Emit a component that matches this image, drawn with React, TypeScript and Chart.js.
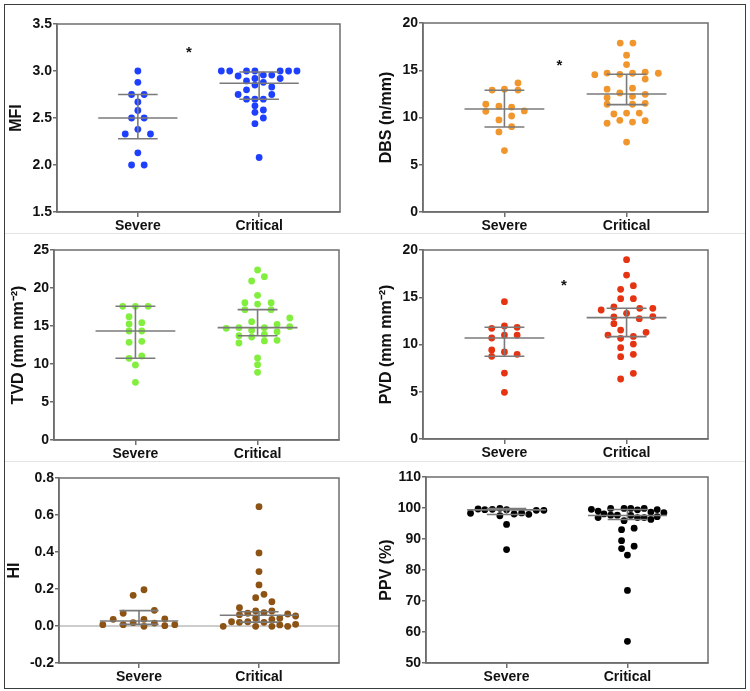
import React, { useEffect, useRef } from "react";
import { Chart, registerables } from "chart.js";
Chart.register(...registerables);

// ---------- data ----------
const categories = ["Severe", "Critical"];
const categoryX = [1, 2.5];

// MFI
const mfiSevere = [3.0, 2.88, 2.75, 2.75, 2.67, 2.58, 2.5, 2.5, 2.38, 2.33, 2.33, 2.13, 2.0, 2.0];
const mfiSevereSlot = [0, 0, -1.5, 1.5, 0, 0, -1.5, 1.5, 0, -3, 3, 0, -1.5, 1.5];
const mfiCritical = [3.0, 3.0, 3.0, 3.0, 3.0, 3.0, 3.0, 2.947, 2.957, 2.957, 2.92, 2.92, 2.894, 2.88, 2.85, 2.83, 2.8, 2.75, 2.75, 2.7, 2.7, 2.7, 2.63, 2.585, 2.56, 2.5, 2.44, 2.08];
const mfiCriticalSlot = [-9, -7, -3, -1, 5, 7, 9, -5, 1, 3, -1, 5, -3, 1, -1, 3, -3, -5, 3, -3, -1, 1, -1, 1, -1, 1, -1, 0];
const mfiSevereStats = [2.28, 2.5, 2.75]; // Q1, median, Q3
const mfiCriticalStats = [2.7, 2.87, 2.99];
const mfiStar = [1.63, 3.23];
const mfiAxis = [1.5, 3.5, 0.5];

// DBS
const dbsSevere = [13.65, 12.9, 13.0, 12.9, 11.4, 10.65, 11.2, 11.1, 10.7, 9.74, 10.16, 9.03, 8.47, 6.5];
const dbsSevereSlot = [3.2, -2.9, 0, 3.2, -4.4, -4.4, -1.3, 1.7, 4.7, -1.3, 1.7, 1.7, -1.3, 0];
const dbsCritical = [17.88, 17.88, 16.6, 15.6, 14.53, 14.7, 14.57, 14.68, 14.8, 14.68, 14.07, 13.0, 13.1, 12.1, 12.6, 12.24, 12.45, 11.4, 11.4, 11.5, 10.37, 10.47, 10.47, 9.39, 9.7, 9.52, 9.66, 7.4];
const dbsCriticalSlot = [-1.5, 1.5, 0, 0, -7.5, -4.6, -1.6, 1.4, 4.4, 7.5, 4.4, -4.6, 1.4, -4.6, -1.6, 1.4, 4.4, -4.6, 1.4, 4.4, -3, 0, 3, -4.6, -1.6, 1.4, 4.4, 0];
const dbsSevereStats = [9.0, 10.9, 12.88];
const dbsCriticalStats = [11.36, 12.49, 14.57];
const dbsStar = [1.674, 15.84];
const dbsAxis = [0, 20, 5];

// TVD
const tvdSevere = [17.59, 17.59, 17.59, 16.23, 15.26, 15.44, 14.34, 14.34, 12.85, 12.98, 10.75, 11.05, 9.87, 7.59];
const tvdSevereSlot = [-3, 0, 3, -1.5, -1.5, 1.5, -1.5, 1.5, -1.5, 1.5, -1.5, 1.5, 0, 0];
const tvdCritical = [22.37, 21.49, 20.92, 19.03, 18.07, 17.89, 18.07, 17.15, 17.15, 16.05, 15.57, 15.22, 14.91, 14.78, 14.78, 14.69, 14.43, 14.25, 13.9, 13.72, 13.55, 13.11, 13.03, 12.76, 10.79, 9.91, 8.9];
const tvdCriticalSlot = [0, 1.6, -1.4, 0, -3, 0, 3.2, -3, 3.2, 7.6, -1.4, 4.6, 7.6, -4.4, 1.6, -7.4, -1.4, 4.6, 1.6, -4.4, -1.4, 4.6, 1.6, -4.4, 0, 0, 0];
const tvdSevereStats = [10.75, 14.34, 17.59];
const tvdCriticalStats = [13.72, 14.78, 17.15];
const tvdAxis = [0, 25, 5];

// PVD
const pvdSevere = [14.53, 11.71, 11.96, 11.82, 10.69, 11.0, 11.0, 9.42, 9.21, 8.75, 8.96, 6.98, 4.94];
const pvdSevereSlot = [0, -3, 0, 3, -3, 0, 3, -3, 0, -3, 3, 0, 0];
const pvdCritical = [18.98, 17.35, 15.84, 16.22, 14.85, 14.85, 13.65, 13.97, 13.83, 13.83, 12.91, 13.3, 12.73, 12.95, 12.2, 11.53, 11.0, 11.29, 10.65, 10.85, 9.66, 10.05, 8.71, 8.96, 6.35, 6.95];
const pvdCriticalSlot = [0, 0, -1.4, 1.6, -1.4, 1.6, -6, -3, 3.1, 6.2, -3, 0, 3, 6.2, -3, -1.4, -4.4, 4.6, -1.4, 1.6, -1.4, 1.6, -1.4, 1.6, -1.4, 1.6];
const pvdSevereStats = [8.75, 10.69, 11.82];
const pvdCriticalStats = [10.83, 12.84, 13.83];
const pvdStar = [1.73, 16.58];
const pvdAxis = [0, 20, 5];

// HI
const hiSevere = [0.196, 0.166, 0.085, 0.069, 0.036, 0.036, 0.038, 0.007, 0.007, 0.018, 0.016, -0.002, 0.002, 0.007];
const hiSevereSlot = [1.2, -1.4, 3.7, -3.8, -6.2, 1.2, 6.2, -8.7, -3.8, -1.4, 3.7, 1.2, 6.2, 8.6];
const hiCritical = [0.645, 0.395, 0.294, 0.222, 0.171, 0.153, 0.131, 0.099, 0.081, 0.081, 0.072, 0.069, 0.065, 0.061, 0.054, 0.042, 0.042, 0.036, 0.023, 0.023, 0.02, 0.02, 0.009, 0.006, -0.002, -0.002, -0.002, -0.002];
const hiCriticalSlot = [0, 0, 0, 0, 1.2, -0.8, 3.1, -4.7, -0.8, 3.1, 1.2, -2.7, 6.9, -4.7, 8.8, -0.8, 5, 3.1, -6.6, -2.7, -4.7, 1.2, 8.8, 5, -8.6, -0.8, 3.1, 6.9];
const hiSevereStats = [0.009, 0.027, 0.083];
const hiCriticalStats = [0.021, 0.058, 0.077];
const hiAxis = [-0.2, 0.8, 0.2];

// PPV
const ppvSevere = [98.3, 99.68, 99.46, 99.57, 99.9, 97.5, 99.46, 94.7, 86.6, 98.06, 98.4, 97.96, 99.26, 99.26];
const ppvSevereSlot = [-8.6, -6.8, -5.2, -3.4, -1.6, -1.6, 0, 0, 0, 1.8, 3.6, 5.3, 7.1, 8.9];
const ppvCritical = [99.57, 99.0, 96.9, 98.1, 99.85, 97.7, 97.7, 99.85, 95.9, 99.85, 97.6, 99.4, 96.9, 99.85, 96.9, 98.7, 96.3, 99.5, 97.2, 98.5, 93.0, 93.5, 89.45, 86.9, 87.7, 84.8, 73.4, 57.0];
const ppvCriticalSlot = [-8.6, -7, -7, -5.6, -4, -4, -2.4, -0.8, -0.8, 0.8, 0.8, 2.4, 2.4, 4, 4, 5.6, 5.6, 7.1, 7.1, 8.7, -1.4, 1.6, -1.4, -1.4, 1.6, 0, 0, 0];
const ppvSevereStats = [97.9, 99.4, 99.8];
const ppvCriticalStats = [96.3, 97.6, 99.5];
const ppvAxis = [50, 110, 10];

// ---------- styling / layout ----------
const FONT = "'Liberation Sans', Arial, Helvetica, sans-serif";
const SLOT = 0.052; // x data units per dot slot
const MED_HALF = 0.49;
const CAP_HALF = 0.245;
const AXIS_GREY = "#6e6e6e";
const BAR_GREY = "#7a7a7a";

type PanelCfg = {
  box: number[]; // left, top, width, height of canvas
  plot: number[]; // plot area left, top, right, bottom (page px)
  title: string;
  color: string;
  axis: number[];
  decimals: number;
  groups: { values: number[]; slots: number[]; stats: number[] }[];
  star?: number[];
  zeroLine?: boolean;
};

const panels: PanelCfg[] = [
  {
    box: [9, 6, 363, 230], plot: [57, 24, 340, 212], title: "MFI", color: "#1f3fff",
    axis: mfiAxis, decimals: 1, star: mfiStar,
    groups: [
      { values: mfiSevere, slots: mfiSevereSlot, stats: mfiSevereStats },
      { values: mfiCritical, slots: mfiCriticalSlot, stats: mfiCriticalStats },
    ],
  },
  {
    box: [379, 6, 365, 230], plot: [423, 23, 708, 212], title: "DBS (n/mm)", color: "#f0962c",
    axis: dbsAxis, decimals: 0, star: dbsStar,
    groups: [
      { values: dbsSevere, slots: dbsSevereSlot, stats: dbsSevereStats },
      { values: dbsCritical, slots: dbsCriticalSlot, stats: dbsCriticalStats },
    ],
  },
  {
    box: [11, 236, 361, 226], plot: [54, 250, 339, 440], title: "TVD (mm mm\u207B\u00B2)", color: "#82ee3e",
    axis: tvdAxis, decimals: 0,
    groups: [
      { values: tvdSevere, slots: tvdSevereSlot, stats: tvdSevereStats },
      { values: tvdCritical, slots: tvdCriticalSlot, stats: tvdCriticalStats },
    ],
  },
  {
    box: [379, 236, 365, 226], plot: [423, 250, 708, 439], title: "PVD (mm mm\u207B\u00B2)", color: "#e63312",
    axis: pvdAxis, decimals: 0, star: pvdStar,
    groups: [
      { values: pvdSevere, slots: pvdSevereSlot, stats: pvdSevereStats },
      { values: pvdCritical, slots: pvdCriticalSlot, stats: pvdCriticalStats },
    ],
  },
  {
    box: [7, 463, 365, 223], plot: [59, 478, 339, 663], title: "HI", color: "#8c5314",
    axis: hiAxis, decimals: 1, zeroLine: true,
    groups: [
      { values: hiSevere, slots: hiSevereSlot, stats: hiSevereStats },
      { values: hiCritical, slots: hiCriticalSlot, stats: hiCriticalStats },
    ],
  },
  {
    box: [379, 463, 365, 223], plot: [426, 477, 708, 663], title: "PPV (%)", color: "#000000",
    axis: ppvAxis, decimals: 0,
    groups: [
      { values: ppvSevere, slots: ppvSevereSlot, stats: ppvSevereStats },
      { values: ppvCritical, slots: ppvCriticalSlot, stats: ppvCriticalStats },
    ],
  },
];

function seg(data: { x: number; y: number }[], color = BAR_GREY, width = 1.6, order = 1) {
  return {
    type: "line" as const,
    data,
    showLine: true,
    borderColor: color,
    borderWidth: width,
    pointRadius: 0,
    pointHoverRadius: 0,
    fill: false,
    order,
  };
}

function DotPanel({ cfg }: { cfg: PanelCfg }) {
  const ref = useRef<HTMLCanvasElement>(null);
  const [bl, bt, bw, bh] = cfg.box;
  const [pl, pt, pr, pb] = cfg.plot;

  useEffect(() => {
    const canvas = ref.current!;
    const yW = pl - bl;
    const padTop = pt - bt;
    const padRight = bl + bw - pr;
    const xH = bt + bh - pb;

    const datasets: any[] = [];
    cfg.groups.forEach((g, i) => {
      datasets.push({
        type: "scatter",
        data: g.values.map((v, j) => ({ x: categoryX[i] + g.slots[j] * SLOT, y: v })),
        backgroundColor: cfg.color,
        borderColor: cfg.color,
        borderWidth: 0,
        pointRadius: 3.4,
        pointHoverRadius: 3.4,
        order: 2,
      });
    });
    cfg.groups.forEach((g, i) => {
      const [q1, med, q3] = g.stats;
      const cx = categoryX[i];
      datasets.push(seg([{ x: cx - MED_HALF, y: med }, { x: cx + MED_HALF, y: med }]));
      datasets.push(seg([{ x: cx, y: q1 }, { x: cx, y: q3 }]));
      datasets.push(seg([{ x: cx - CAP_HALF, y: q1 }, { x: cx + CAP_HALF, y: q1 }]));
      datasets.push(seg([{ x: cx - CAP_HALF, y: q3 }, { x: cx + CAP_HALF, y: q3 }]));
    });
    if (cfg.zeroLine) {
      datasets.push(seg([{ x: 0, y: 0 }, { x: 3.5, y: 0 }], "#9a9a9a", 1, 3));
    }

    const [ymin, ymax, ystep] = cfg.axis;
    const tickFont = { family: FONT, size: 14, weight: "bold" as const };

    const framePlugin = {
      id: "frameAndStar",
      afterDraw(chart: any) {
        const { ctx, chartArea } = chart;
        ctx.save();
        ctx.strokeStyle = AXIS_GREY;
        ctx.lineWidth = 1.5;
        ctx.strokeRect(chartArea.left, chartArea.top, chartArea.right - chartArea.left, chartArea.bottom - chartArea.top);
        if (cfg.star) {
          const sx = chart.scales.x.getPixelForValue(cfg.star[0]);
          const sy = chart.scales.y.getPixelForValue(cfg.star[1]);
          ctx.fillStyle = "#111";
          ctx.font = `bold 15px ${FONT}`;
          ctx.textAlign = "center";
          ctx.textBaseline = "alphabetic";
          ctx.fillText("*", sx, sy + 8);
        }
        ctx.restore();
      },
    };

    const chart = new Chart(canvas, {
      type: "scatter",
      data: { datasets },
      options: {
        animation: false,
        responsive: false,
        devicePixelRatio: 1,
        events: [],
        layout: { padding: { top: padTop, right: padRight, left: 0, bottom: 0 } },
        plugins: { legend: { display: false }, tooltip: { enabled: false } },
        scales: {
          x: {
            type: "linear",
            min: 0,
            max: 3.5,
            afterBuildTicks: (s: any) => {
              s.ticks = categoryX.map((v) => ({ value: v }));
            },
            afterFit: (s: any) => {
              s.height = xH;
            },
            ticks: {
              autoSkip: false,
              maxRotation: 0,
              padding: 1,
              color: "#111",
              font: tickFont,
              callback: (v: any) => {
                const k = categoryX.indexOf(Number(v));
                return k >= 0 ? categories[k] : "";
              },
            },
            grid: { drawOnChartArea: false, tickLength: 5, color: AXIS_GREY, lineWidth: 1.5 },
            border: { display: true, color: AXIS_GREY, width: 1.5 },
          },
          y: {
            type: "linear",
            min: ymin,
            max: ymax,
            afterFit: (s: any) => {
              s.width = yW;
            },
            ticks: {
              stepSize: ystep,
              padding: 1,
              color: "#111",
              font: tickFont,
              callback: (v: any) => {
                const n = Math.abs(Number(v)) < 1e-9 ? 0 : Number(v);
                return n.toFixed(cfg.decimals);
              },
            },
            grid: { drawOnChartArea: false, tickLength: 4, color: AXIS_GREY, lineWidth: 1.5 },
            border: { display: true, color: AXIS_GREY, width: 1.5 },
            title: {
              display: true,
              text: cfg.title,
              color: "#111",
              padding: 0,
              font: { family: FONT, size: 16, weight: "bold", lineHeight: 1 },
            },
          },
        },
      } as any,
      plugins: [framePlugin],
    });
    return () => chart.destroy();
  }, []);

  return (
    <canvas
      ref={ref}
      width={bw}
      height={bh}
      style={{ position: "absolute", left: bl, top: bt, width: bw, height: bh }}
    />
  );
}

export default function App() {
  return (
    <div style={{ position: "absolute", left: 0, top: 0, width: 750, height: 691, background: "#fff", overflow: "hidden" }}>
      <div
        style={{
          position: "absolute", left: 4, top: 4, width: 742, height: 685,
          border: "1.5px solid #3c3c3c", boxSizing: "border-box",
        }}
      />
      <div style={{ position: "absolute", left: 5, top: 233, width: 740, height: 1, background: "#e4e4e4" }} />
      <div style={{ position: "absolute", left: 5, top: 461, width: 740, height: 1, background: "#e4e4e4" }} />
      {panels.map((p, i) => (
        <DotPanel key={i} cfg={p} />
      ))}
    </div>
  );
}
